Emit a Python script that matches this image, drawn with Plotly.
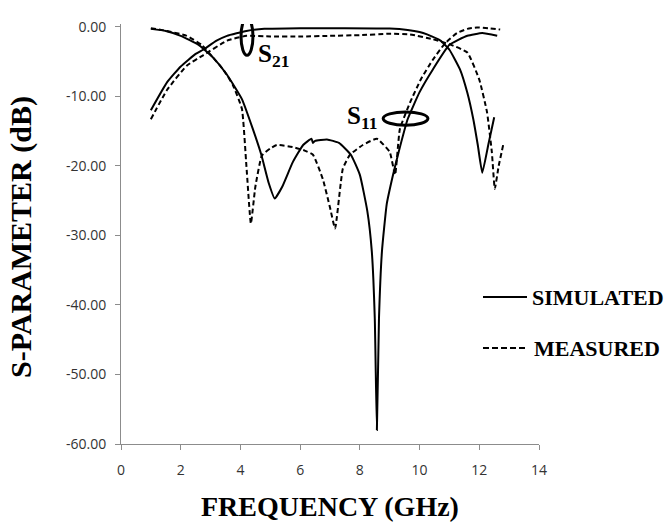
import plotly.graph_objects as go

# ---------------- data ----------------
sim_s11_f = [1.0, 1.5, 2.0, 2.6, 3.1, 3.55, 4.05, 4.4, 4.7, 4.95, 5.15, 5.4, 5.75, 6.1, 6.38, 6.43, 6.5,
             6.9, 7.3, 7.7, 8.0, 8.25, 8.4, 8.5, 8.57, 8.64, 8.74, 8.9, 9.1, 9.3, 9.6, 10.0, 10.45,
             11.0, 11.6, 12.1, 12.6]
sim_s11 = [-0.3, -0.6, -1.3, -2.6, -4.5, -6.9, -10.4, -14.5, -18.4, -22.5, -24.7, -23.0, -19.5, -17.0,
           -16.1, -16.7, -16.4, -16.2, -16.7, -18.4, -21.3, -26.5, -32.3, -42.0, -58.0, -42.0, -32.3,
           -25.5, -21.5, -18.0, -13.3, -9.4, -6.1, -2.6, -1.3, -0.9, -1.3]

sim_s21_f = [1.0, 1.54, 2.0, 2.5, 2.75, 3.2, 3.55, 4.2, 4.8, 6.0, 7.5, 9.0, 9.6, 10.0, 10.25, 10.7,
             11.0, 11.35, 11.6, 11.8, 11.95, 12.1, 12.3, 12.5]
sim_s21 = [-12.0, -8.0, -5.7, -3.9, -3.3, -2.0, -1.3, -0.6, -0.3, -0.2, -0.2, -0.25, -0.45, -0.75,
           -1.1, -2.0, -3.3, -6.1, -9.5, -13.3, -17.0, -21.0, -17.0, -13.0]

meas_s11_f = [1.0, 1.54, 2.2, 2.7, 3.08, 3.45, 3.75, 4.05, 4.2, 4.35, 4.5, 4.72, 5.0, 5.22, 5.76,
              6.15, 6.43, 6.76, 7.0, 7.17, 7.43, 7.67, 8.1, 8.57, 9.0, 9.18, 9.34, 9.68, 10.05, 10.45,
              10.85, 11.25, 11.6, 11.92, 12.3, 12.7]
meas_s11 = [-0.2, -0.6, -1.3, -2.6, -4.4, -6.3, -8.4, -11.8, -20.0, -28.3, -23.0, -18.5, -17.5, -17.0,
            -17.3, -17.8, -18.4, -21.9, -26.0, -29.0, -20.4, -18.4, -17.0, -16.1, -18.0, -21.3, -14.7,
            -10.9, -7.5, -4.7, -2.4, -0.9, -0.3, -0.1, -0.2, -0.4]

meas_s21_f = [1.0, 1.54, 2.2, 2.75, 3.55, 4.2, 5.0, 6.0, 7.0, 8.0, 9.0, 9.68, 10.45, 11.0, 11.6,
              12.0, 12.26, 12.42, 12.52, 12.65, 12.8]
meas_s21 = [-13.3, -9.1, -5.6, -4.1, -2.0, -1.3, -1.4, -1.4, -1.3, -1.2, -1.0, -1.1, -1.8, -2.5, -3.7,
            -7.6, -12.3, -18.0, -23.3, -20.0, -17.0]

x_ticks = [0, 2, 4, 6, 8, 10, 12, 14]
y_ticks = [0, -10, -20, -30, -40, -50, -60]
y_tick_text = ["0.00", "-10.00", "-20.00", "-30.00", "-40.00", "-50.00", "-60.00"]

legend_names = ["SIMULATED", "MEASURED"]

# ---------------- figure ----------------
W, H = 672, 525
L, R, T, B = 121, 133, 24, 81
pw, ph = W - L - R, H - T - B


def px(xp):
    return (xp - L) / pw


def py(yp):
    return 1 - (yp - T) / ph


serif = "Liberation Serif, Times New Roman, serif"
solid = dict(color="black", width=2)
dashed = dict(color="black", width=2, dash="5px,3px")

fig = go.Figure()
for xs, ys, ln in [(sim_s11_f, sim_s11, solid), (sim_s21_f, sim_s21, solid),
                   (meas_s11_f, meas_s11, dashed), (meas_s21_f, meas_s21, dashed)]:
    fig.add_trace(go.Scatter(x=xs, y=ys, mode="lines", line=ln, showlegend=False,
                             line_shape="spline", line_smoothing=0.4))

# ellipses marking the curve groups
fig.add_shape(type="circle", xref="x", yref="y", x0=4.02, x1=4.42, y0=-4.1, y1=1.3,
              line=dict(color="black", width=3))
fig.add_shape(type="circle", xref="x", yref="y", x0=8.78, x1=10.28, y0=-14.15, y1=-12.25,
              line=dict(color="black", width=3))
fig.add_annotation(x=px(256), y=py(56), xref="paper", yref="paper", text="<b>S<sub>21</sub></b>",
                   showarrow=False, xanchor="left", yanchor="middle",
                   font=dict(family=serif, size=25, color="black"))
fig.add_annotation(x=px(345), y=py(117), xref="paper", yref="paper", text="<b>S<sub>11</sub></b>",
                   showarrow=False, xanchor="left", yanchor="middle",
                   font=dict(family=serif, size=25, color="black"))

# custom legend
fig.add_shape(type="line", xref="paper", yref="paper", x0=px(483), x1=px(527), y0=py(297), y1=py(297),
              line=dict(color="black", width=2))
fig.add_shape(type="line", xref="paper", yref="paper", x0=px(483), x1=px(527), y0=py(348), y1=py(348),
              line=dict(color="black", width=2, dash="6px,3px"))
fig.add_annotation(x=px(530), y=py(297), xref="paper", yref="paper", text="<b>" + legend_names[0] + "</b>",
                   showarrow=False, xanchor="left", yanchor="middle",
                   font=dict(family=serif, size=22, color="black"))
fig.add_annotation(x=px(532), y=py(348), xref="paper", yref="paper", text="<b>" + legend_names[1] + "</b>",
                   showarrow=False, xanchor="left", yanchor="middle",
                   font=dict(family=serif, size=22, color="black"))

# axis titles
fig.add_annotation(x=px(330), y=py(507), xref="paper", yref="paper", text="<b>FREQUENCY (GHz)</b>",
                   showarrow=False, xanchor="center", yanchor="middle",
                   font=dict(family=serif, size=28, color="black"))
fig.add_annotation(x=px(21), y=py(237), xref="paper", yref="paper", text="<b>S-PARAMETER (dB)</b>",
                   showarrow=False, xanchor="center", yanchor="middle", textangle=-90,
                   font=dict(family=serif, size=30, color="black"))

axis_common = dict(showgrid=False, zeroline=False, showline=True, linecolor="#8c8c8c", linewidth=1,
                   ticks="outside", ticklen=5, tickcolor="#8c8c8c",
                   tickfont=dict(family="Open Sans, Lato, sans-serif", size=14, color="#333333"))
fig.update_xaxes(range=[0, 14], tickvals=x_ticks, ticklabelstandoff=8, **axis_common)
fig.update_yaxes(range=[-60, 0.4], tickvals=y_ticks, ticktext=y_tick_text, ticklabelstandoff=6,
                 **axis_common)

fig.update_layout(width=W, height=H, margin=dict(l=L, r=R, t=T, b=B),
                  paper_bgcolor="white", plot_bgcolor="white", showlegend=False)

fig.write_html("out.html")
